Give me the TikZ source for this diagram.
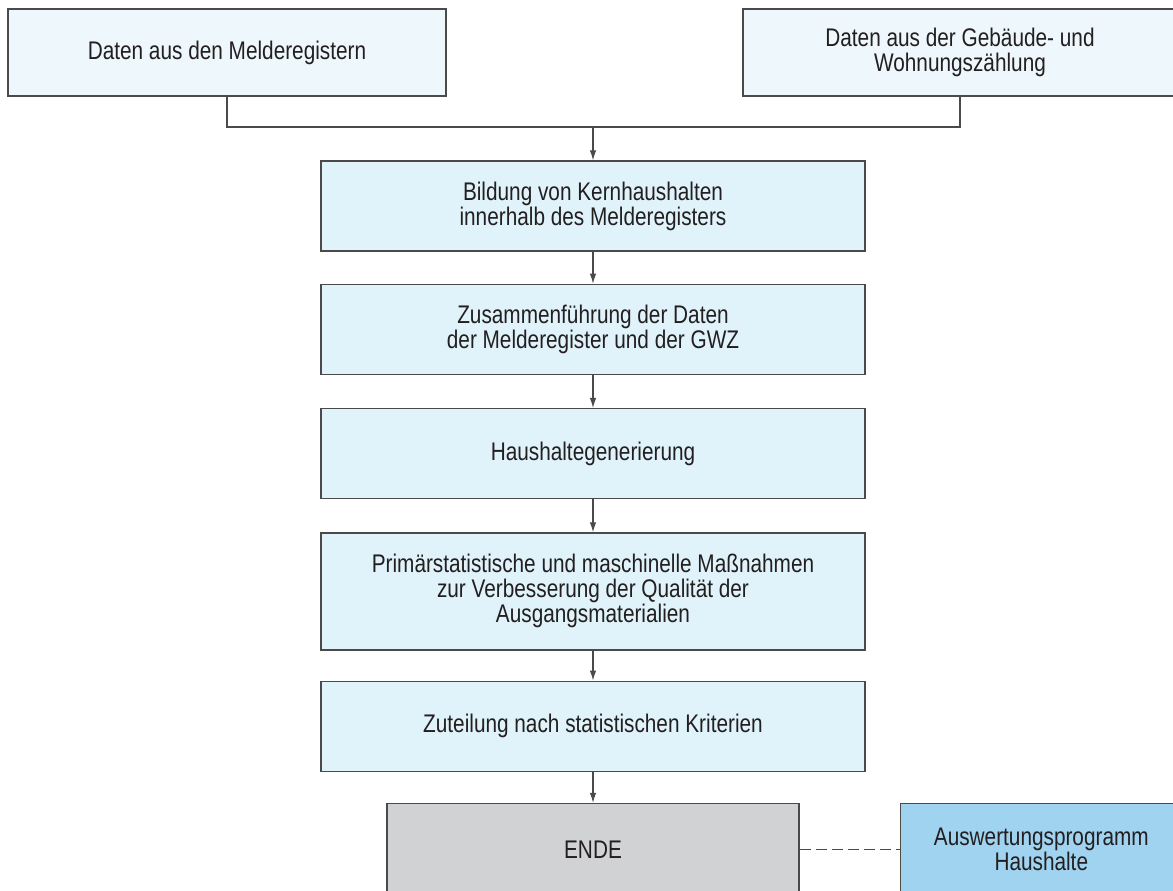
\documentclass[tikz,border=0pt]{standalone}
\usepackage{fontspec}
\setmainfont[FakeStretch=0.815]{Liberation Sans}
\usepackage{xcolor}
\usetikzlibrary{arrows.meta, positioning}

\definecolor{quelle}{HTML}{EEF7FC}
\definecolor{schritt}{HTML}{E0F3FB}
\definecolor{ende}{HTML}{D1D2D4}
\definecolor{programm}{HTML}{A0D3F0}
\definecolor{rand}{HTML}{4A4A4A}
\definecolor{schrift}{HTML}{231F20}

\begin{document}
\begin{tikzpicture}[
  x=1pt, y=-1pt,
  node distance=33pt,
  box/.style={rectangle, draw=rand, line width=1.3pt, minimum width=544pt,
              minimum height=90pt, align=center, fill=schritt, text=schrift,
              font=\fontsize{25.5}{25}\selectfont, inner sep=0pt},
  arrow/.style={-{Latex[length=10pt, width=6.5pt]}, line width=1.1pt, rand}
]
\useasboundingbox (0,0) rectangle (1173,891);
\node (melde) [box, fill=quelle, minimum width=438pt, minimum height=87pt] at (227,52.5) {Daten aus den Melderegistern};
\node (gwz)   [box, fill=quelle, minimum width=434pt, minimum height=87pt] at (960,52.5) {Daten aus der Gebäude- und\\Wohnungszählung};
\coordinate (join) at (593,127);
\node (kern)  [box] at (593,206)                        {Bildung von Kernhaushalten\\innerhalb des Melderegisters};
\node (zus)   [box, below=32pt of kern]                  {Zusammenführung der Daten\\der Melderegister und der GWZ};
\node (gen)   [box, below=of zus]                        {Haushaltegenerierung};
\node (prim)  [box, below=of gen, minimum height=117pt]  {Primärstatistische und maschinelle Maßnahmen\\zur Verbesserung der Qualität der\\Ausgangsmaterialien};
\node (zut)   [box, below=30pt of prim]                  {Zuteilung nach statistischen Kriterien};
\node (ende)  [box, below=31pt of zut, fill=ende, minimum width=412pt, minimum height=92pt] {ENDE};
\node (prog)  [box, right=100pt of ende, fill=programm, minimum width=282pt, minimum height=92pt] {Auswertungsprogramm\\Haushalte};
\draw [line width=1.2pt, rand] (melde.south) |- (join) -| (gwz.south);
\draw [arrow] (join) -- (kern);
\draw [arrow] (kern) -- (zus);
\draw [arrow] (zus) -- (gen);
\draw [arrow] (gen) -- (prim);
\draw [arrow] (prim) -- (zut);
\draw [arrow] (zut) -- (ende);
\draw [line width=1.2pt, rand, dash pattern=on 11pt off 5pt] (ende.east) -- (prog.west);
\end{tikzpicture}
\end{document}
